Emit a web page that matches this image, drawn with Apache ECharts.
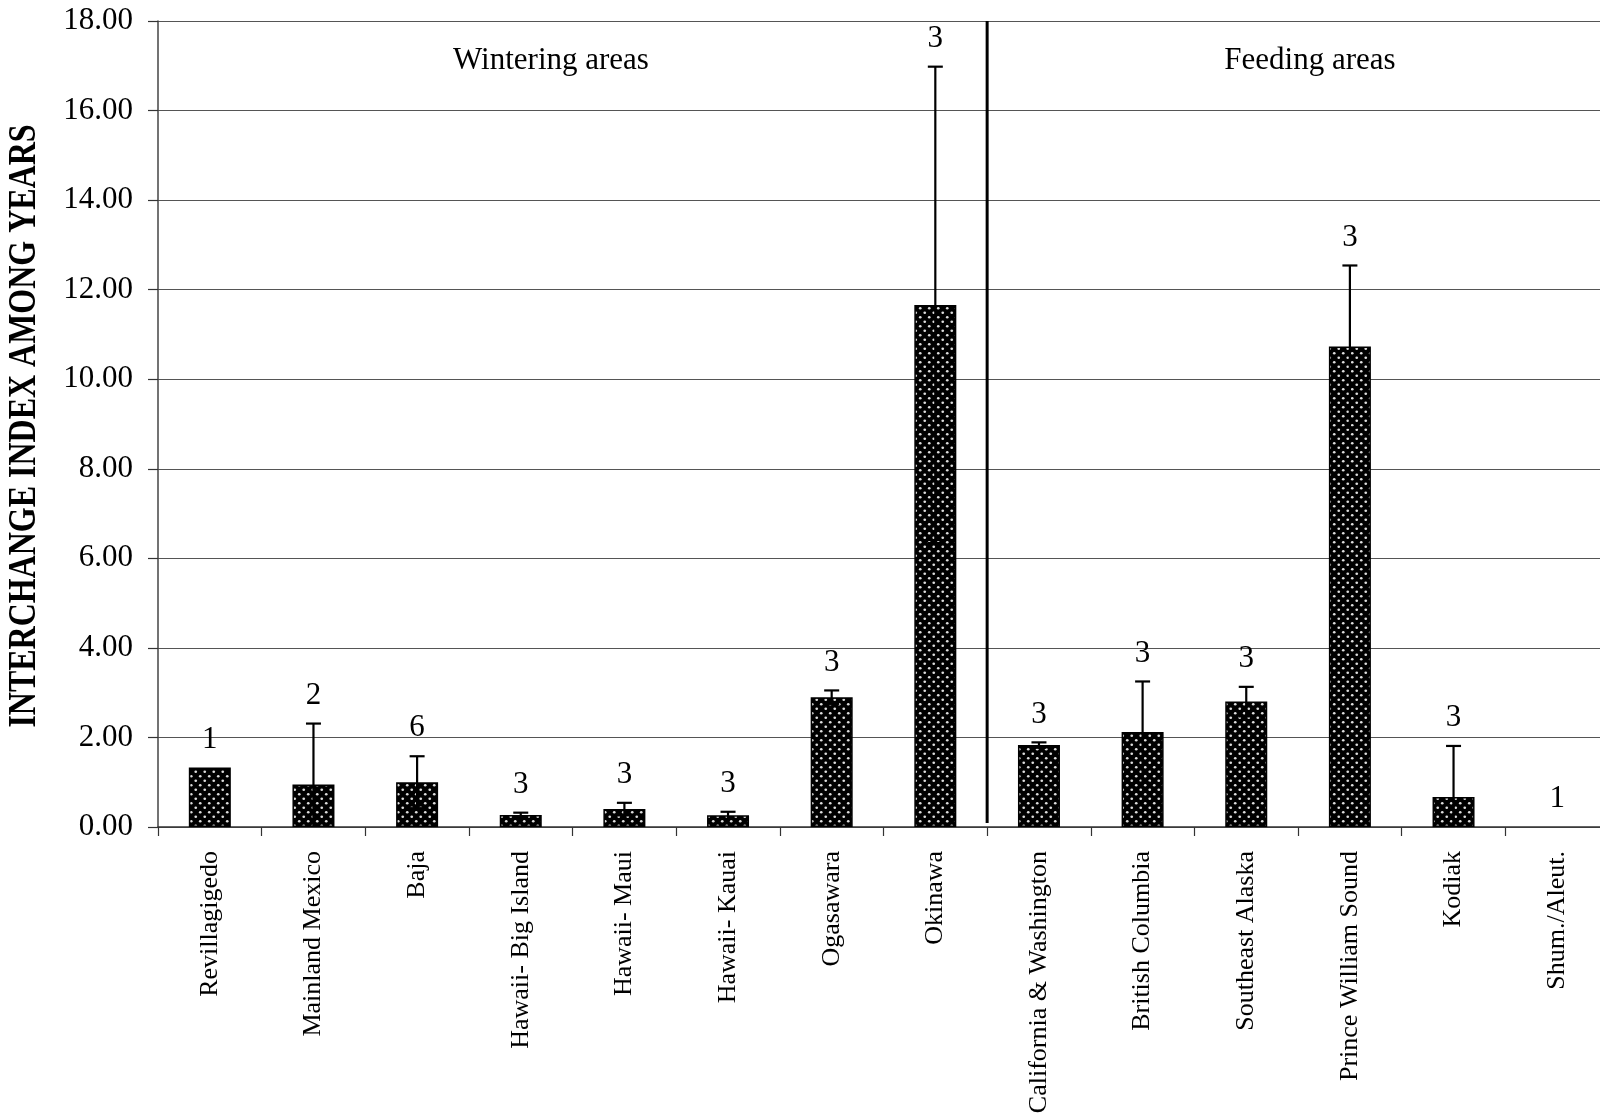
<!DOCTYPE html>
<html>
<head>
<meta charset="utf-8">
<title>Interchange index among years</title>
<script src="https://cdn.jsdelivr.net/npm/echarts@6/dist/echarts.min.js"></script>
<style>
  html, body { margin: 0; padding: 0; background: #fff; }
  #chart { width: 1600px; height: 1119px; }
</style>
</head>
<body>
<div id="chart"></div>
<script>
// Areas, in plotting order: wintering areas first, then feeding areas
const categories = [
  'Revillagigedo', 'Mainland Mexico', 'Baja', 'Hawaii- Big Island',
  'Hawaii- Maui', 'Hawaii- Kauai', 'Ogasawara', 'Okinawa',
  'California & Washington', 'British Columbia', 'Southeast Alaska',
  'Prince William Sound', 'Kodiak', 'Shum./Aleut.'
];
// Mean interchange index among years
const meanIndex = [1.33, 0.95, 1.00, 0.27, 0.40, 0.26, 2.90, 11.66, 1.83, 2.12, 2.80, 10.73, 0.67, 0.00];
// Error (+/-) drawn as bars around each mean
const errorSize = [0, 1.36, 0.58, 0.05, 0.14, 0.08, 0.15, 5.32, 0.06, 1.13, 0.33, 1.81, 1.14, 0];
// Number of year pairs behind each value
const sampleN = [1, 2, 6, 3, 3, 3, 3, 3, 3, 3, 3, 3, 3, 1];
// Index of the last wintering area (divider drawn after it)
const lastWinteringIndex = 7;
const regionNames = ['Wintering areas', 'Feeding areas'];
const yMin = 0, yMax = 18, yStep = 2;

const SERIF = '"Liberation Serif", "Times New Roman", Times, serif';

// Black fill with a staggered grid of light dots
function dotPattern() {
  const c = document.createElement('canvas');
  c.width = 9; c.height = 9;
  const g = c.getContext('2d');
  g.fillStyle = '#000';
  g.fillRect(0, 0, 9, 9);
  g.fillStyle = '#dedede';
  [[2.25, 2.25], [6.75, 6.75]].forEach(([x, y]) => {
    g.beginPath();
    g.arc(x, y, 1.35, 0, Math.PI * 2);
    g.fill();
  });
  return c;
}

const chart = echarts.init(document.getElementById('chart'), null, { renderer: 'canvas' });

const option = {
  animation: false,
  backgroundColor: '#fff',
  grid: { left: 158, top: 21, width: 1451, height: 806, containLabel: false, outerBoundsMode: 'none' },
  xAxis: {
    type: 'category',
    data: categories,
    boundaryGap: true,
    axisLine: { show: true, lineStyle: { color: '#333', width: 1.5 } },
    axisTick: { show: true, interval: 0, length: 9, lineStyle: { color: '#333', width: 1.2 } },
    axisLabel: {
      interval: 0, rotate: 90, margin: 24,
      fontFamily: SERIF, fontSize: 26, color: '#000'
    },
    splitLine: { show: false }
  },
  yAxis: {
    type: 'value',
    min: yMin, max: yMax, interval: yStep,
    axisLine: { show: true, lineStyle: { color: '#444', width: 1.5 } },
    axisTick: { show: true, length: 10, lineStyle: { color: '#333', width: 1.2 } },
    axisLabel: {
      margin: 25, fontFamily: SERIF, fontSize: 31, color: '#000',
      formatter: v => v.toFixed(2)
    },
    splitLine: { show: true, lineStyle: { color: '#555', width: 1.2 } }
  },
  graphic: [
    {
      type: 'text', x: 25, y: 426, rotation: Math.PI / 2, scaleX: 0.82,
      style: {
        text: 'INTERCHANGE INDEX AMONG YEARS',
        font: 'bold 39px ' + SERIF, fill: '#000',
        align: 'center', verticalAlign: 'middle'
      }
    },
    {
      type: 'text', x: 551, y: 61,
      style: { text: regionNames[0], font: '31px ' + SERIF, fill: '#000', align: 'center', verticalAlign: 'middle' }
    },
    {
      type: 'text', x: 1310, y: 61,
      style: { text: regionNames[1], font: '31px ' + SERIF, fill: '#000', align: 'center', verticalAlign: 'middle' }
    }
  ],
  series: [
    {
      name: 'Interchange index',
      type: 'bar',
      // a zero-height bar leaves no outline
      data: meanIndex.map(v => (v === 0 ? { value: v, itemStyle: { borderWidth: 0 } } : v)),
      barWidth: 42,
      itemStyle: {
        color: { image: dotPattern(), repeat: 'repeat' },
        borderColor: '#000',
        borderWidth: 1.5
      },
      z: 2
    },
    {
      // error bars
      type: 'custom',
      data: categories.map((c, i) => [i, meanIndex[i], errorSize[i]]),
      encode: { x: 0, y: 1 },
      z: 3,
      renderItem(params, api) {
        const i = api.value(0), v = api.value(1), e = api.value(2);
        if (!e) return null;
        const top = api.coord([i, v + e]);
        const lowVal = v - e;
        const bot = api.coord([i, Math.max(0, lowVal)]);
        const x = top[0], half = 7.5;
        const style = { stroke: '#000', lineWidth: 2.2 };
        const kids = [
          { type: 'line', shape: { x1: x, y1: top[1], x2: x, y2: bot[1] }, style },
          { type: 'line', shape: { x1: x - half, y1: top[1], x2: x + half, y2: top[1] }, style }
        ];
        if (lowVal > 0) {
          kids.push({ type: 'line', shape: { x1: x - half, y1: bot[1], x2: x + half, y2: bot[1] }, style });
        }
        return { type: 'group', children: kids };
      }
    },
    {
      // sample size written above each bar
      type: 'custom',
      data: categories.map((c, i) => [i, meanIndex[i] + errorSize[i], sampleN[i]]),
      encode: { x: 0, y: 1 },
      z: 4,
      renderItem(params, api) {
        const p = api.coord([api.value(0), api.value(1)]);
        return {
          type: 'text', x: p[0], y: p[1] - 28,
          style: {
            text: String(api.value(2)), font: '31px ' + SERIF, fill: '#000',
            align: 'center', verticalAlign: 'middle'
          }
        };
      }
    },
    {
      // divider between wintering and feeding areas
      type: 'custom',
      data: [[lastWinteringIndex]],
      encode: { x: 0 },
      z: 4,
      renderItem(params, api) {
        const idx = api.value(0);
        const x = api.coord([idx, yMin])[0] + api.size([1, 0])[0] / 2;
        const y1 = api.coord([idx, yMax])[1];
        const y2 = api.coord([idx, 0.09])[1];
        return {
          type: 'line',
          shape: { x1: x, y1: y1, x2: x, y2: y2 },
          style: { stroke: '#000', lineWidth: 3 }
        };
      }
    }
  ]
};

chart.setOption(option);
</script>
</body>
</html>
